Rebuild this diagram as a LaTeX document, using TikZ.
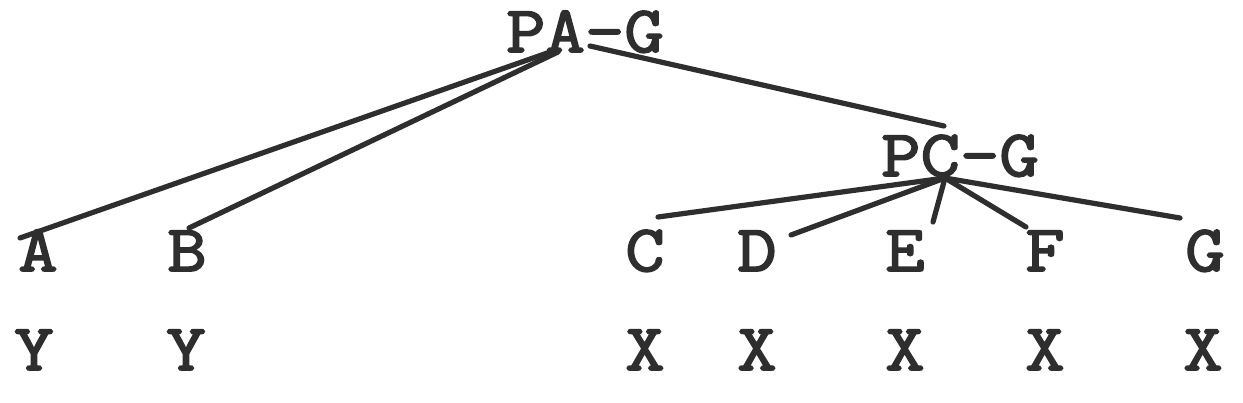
\documentclass[tikz,border=0pt]{standalone}
\usepackage{fontspec}
\newfontfamily\typew[FakeBold=2.6,FakeStretch=1.16]{Latin Modern Mono}
\begin{document}
\begin{tikzpicture}[x=0.5pt,y=-0.5pt,
  lbl/.style={font=\typew\fontsize{33}{36}\selectfont, text=black!82, inner sep=0pt, anchor=base},
  edge/.style={draw=black!82, line width=2.6pt, line cap=round}]
\useasboundingbox[fill=white] (0,0) rectangle (1243,402);
% nodes
\node[lbl] (pag) at (585,52) {PA-G};
\node[lbl] (pcg) at (960,176) {PC-G};
\node[lbl] (a) at (38,271) {A};
\node[lbl] (b) at (187,271) {B};
\node[lbl] (c) at (645,271) {C};
\node[lbl] (d) at (757,271) {D};
\node[lbl] (e) at (905,271) {E};
\node[lbl] (f) at (1045,271) {F};
\node[lbl] (g) at (1205,271) {G};
\node[lbl] (ya) at (34,370) {Y};
\node[lbl] (yb) at (186,370) {Y};
\node[lbl] (xc) at (645,370) {X};
\node[lbl] (xd) at (757,370) {X};
\node[lbl] (xe) at (905,370) {X};
\node[lbl] (xf) at (1045,370) {X};
\node[lbl] (xg) at (1203,370) {X};
% connector end points
\coordinate (pagL) at (553,51);
\coordinate (pagL2) at (558,52);
\coordinate (pagR) at (590,46);
\coordinate (pcgT) at (944,126);
\coordinate (pcgB) at (945,178);
\coordinate (aT) at (20,238);
\coordinate (bT) at (189,228);
\coordinate (cT) at (658,217);
\coordinate (dT) at (791,235);
\coordinate (eT) at (933,222);
\coordinate (fT) at (1026,227);
\coordinate (gT) at (1180,218);
% connectors
\draw[edge] (pagL) -- (aT);
\draw[edge] (pagL2) -- (bT);
\draw[edge] (pagR) -- (pcgT);
\draw[edge] (pcgB) -- (cT);
\draw[edge] (pcgB) -- (dT);
\draw[edge] (pcgB) -- (eT);
\draw[edge] (pcgB) -- (fT);
\draw[edge] (pcgB) -- (gT);
\end{tikzpicture}
\end{document}
